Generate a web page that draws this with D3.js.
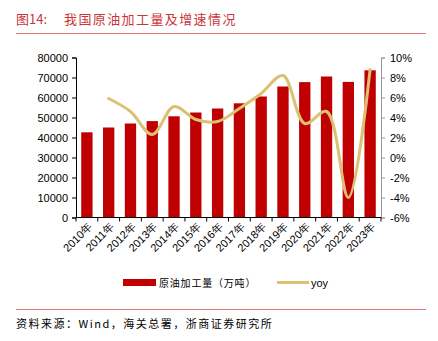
<!DOCTYPE html>
<html>
<head>
<meta charset="utf-8">
<script src="https://cdn.jsdelivr.net/npm/d3@7"></script>
<style>
  html, body { margin: 0; padding: 0; background: #fff; }
  svg { display: block; }
</style>
</head>
<body>
<svg id="chart" width="438" height="341"></svg>
<script>
// Crude oil processing volume (10k tonnes) and year-on-year growth
const years = ["2010年","2011年","2012年","2013年","2014年","2015年","2016年","2017年","2018年","2019年","2020年","2021年","2022年","2023年"];
const volume = [42600, 45000, 47000, 48200, 50600, 52500, 54500, 57100, 60500, 65500, 67700, 70500, 67800, 73600];
const yoy = [null, 5.9, 4.6, 2.3, 5.1, 3.8, 3.6, 4.9, 6.4, 8.2, 3.4, 4.6, -4.0, 8.8];
const leftTicks = [0, 10000, 20000, 30000, 40000, 50000, 60000, 70000, 80000];
const rightTicks = [-6, -4, -2, 0, 2, 4, 6, 8, 10];

const svg = d3.select("#chart");
const cjk = "'Noto Sans CJK SC', 'Noto Sans', sans-serif";
const latin = "'Liberation Sans', Arial, sans-serif";
const red = "#C00000";
const gold = "#DCC174";
const titleRed = "#C8363C";

const plot = { left: 76, right: 381, top: 57.5, bottom: 217.5 };

const x = d3.scaleBand().domain(years).range([plot.left, plot.right]).paddingInner(0.48).paddingOuter(0.24);
const yL = d3.scaleLinear().domain([0, 80000]).range([plot.bottom, plot.top]);
const yR = d3.scaleLinear().domain([-6, 10]).range([plot.bottom, plot.top]);

// Title and rules
svg.append("text").attr("x", 16).attr("y", 24)
  .attr("font-family", cjk).attr("font-size", 13).attr("fill", titleRed)
  .text("图14:");
svg.append("text").attr("x", 64).attr("y", 24)
  .attr("font-family", cjk).attr("font-size", 13).attr("letter-spacing", 1.4).attr("fill", titleRed)
  .text("我国原油加工量及增速情况");
svg.append("line").attr("x1", 16).attr("x2", 426).attr("y1", 33.5).attr("y2", 33.5)
  .attr("stroke", "#E27A7A").attr("stroke-width", 1.2);
svg.append("line").attr("x1", 16).attr("x2", 426).attr("y1", 309.5).attr("y2", 309.5)
  .attr("stroke", "#E27A7A").attr("stroke-width", 1.2);

// Bars
svg.append("g").selectAll("rect").data(years).join("rect")
  .attr("x", d => x(d))
  .attr("width", x.bandwidth())
  .attr("y", (d, i) => yL(volume[i]))
  .attr("height", (d, i) => yL(0) - yL(volume[i]))
  .attr("fill", red);

// Left axis
const gL = svg.append("g").attr("transform", `translate(${plot.left},0)`)
  .call(d3.axisLeft(yL).tickValues(leftTicks).tickSize(4).tickPadding(4).tickFormat(d3.format("d")));
gL.select(".domain").attr("stroke", "#000");
gL.selectAll(".tick line").attr("stroke", "#000");
gL.selectAll("text").attr("font-family", latin).attr("font-size", 11).attr("fill", "#000");

// Right axis
const gR = svg.append("g").attr("transform", `translate(${plot.right},0)`)
  .call(d3.axisRight(yR).tickValues(rightTicks).tickSize(4).tickPadding(5).tickFormat(d => d + "%"));
gR.select(".domain").attr("stroke", "#999");
gR.selectAll(".tick line").attr("stroke", "#999");
gR.selectAll("text").attr("font-family", latin).attr("font-size", 11).attr("fill", "#000");

// Bottom axis with ticks at band boundaries
const step = x.step();
const boundaries = d3.range(years.length + 1).map(i => plot.left + i * step);
const gB = svg.append("g");
gB.append("line").attr("x1", plot.left).attr("x2", plot.right)
  .attr("y1", plot.bottom).attr("y2", plot.bottom).attr("stroke", "#000");
gB.selectAll("line.tk").data(boundaries).join("line").attr("class", "tk")
  .attr("x1", d => d).attr("x2", d => d)
  .attr("y1", plot.bottom).attr("y2", plot.bottom + 4).attr("stroke", "#000");
gB.selectAll("text").data(years).join("text")
  .attr("transform", d => `translate(${x(d) + x.bandwidth() / 2 + 6},${plot.bottom + 10}) rotate(-45)`)
  .attr("text-anchor", "end")
  .attr("font-family", latin).attr("font-size", 11).attr("fill", "#000")
  .text(d => d);

// YoY smoothed line
const pts = years.map((d, i) => [x(d) + x.bandwidth() / 2, yoy[i]]).filter(p => p[1] !== null);
svg.append("path")
  .attr("d", d3.line().x(p => p[0]).y(p => yR(p[1])).curve(d3.curveCatmullRom.alpha(0.5))(pts))
  .attr("fill", "none").attr("stroke", gold).attr("stroke-width", 3).attr("stroke-linecap", "round");

// Legend
const lg = svg.append("g");
lg.append("rect").attr("x", 123).attr("y", 279).attr("width", 33).attr("height", 7).attr("fill", red);
lg.append("text").attr("x", 159).attr("y", 287)
  .attr("font-family", cjk).attr("font-size", 10).attr("letter-spacing", 0.8).attr("fill", "#000")
  .text("原油加工量（万吨）");
lg.append("line").attr("x1", 277).attr("x2", 309).attr("y1", 282.5).attr("y2", 282.5)
  .attr("stroke", gold).attr("stroke-width", 3);
lg.append("text").attr("x", 311).attr("y", 287)
  .attr("font-family", latin).attr("font-size", 11).attr("fill", "#000")
  .text("yoy");

// Source note
svg.append("text").attr("x", 16).attr("y", 328)
  .attr("font-family", cjk).attr("font-size", 11).attr("letter-spacing", 1.5).attr("fill", "#000")
  .text("资料来源：Wind，海关总署，浙商证券研究所");
</script>
</body>
</html>
